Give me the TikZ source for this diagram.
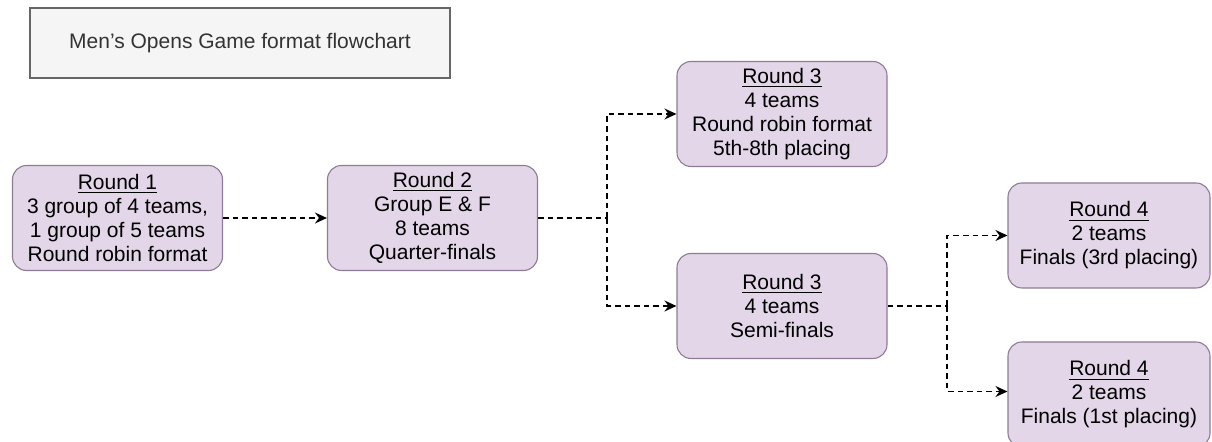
\documentclass[tikz,border=0pt]{standalone}
\usepackage{fontspec}
\setmainfont{Liberation Sans}
\usetikzlibrary{arrows.meta}
\definecolor{boxfill}{HTML}{E2D6E8}
\definecolor{boxline}{HTML}{8E7C96}
\definecolor{titlefill}{HTML}{F5F5F5}
\definecolor{titleline}{HTML}{666666}
\definecolor{titletext}{HTML}{333333}
\tikzset{
  roundbox/.style={draw=boxline, fill=boxfill, line width=0.55pt, rounded corners=7pt,
    minimum width=105pt, minimum height=52.5pt, inner sep=0pt, align=center,
    font=\fontsize{10.5}{12}\selectfont},
  titlebox/.style={draw=titleline, fill=titlefill, line width=0.55pt,
    minimum width=210pt, minimum height=35pt, inner sep=0pt, text=titletext,
    font=\fontsize{10.5}{12}\selectfont},
  arr/.style={draw=black, line width=0.65pt, dash pattern=on 2.8pt off 2pt,
    -{Stealth[length=6pt,width=5.5pt,inset=2pt]}},
  conn/.style={draw=black, line width=0.65pt, dash pattern=on 2.8pt off 2pt}
}
\begin{document}
\begin{tikzpicture}[x=0.5pt,y=-0.5pt]
\useasboundingbox (0,0) rectangle (1212,442);
\clip (0,0) rectangle (1212,442);
\fill[white] (0,0) rectangle (1212,442);
\node[titlebox] (title) at (240,43) {Men's Opens Game format flowchart};
\node[roundbox] (r1) at (117.5,218) {\underline{Round 1}\\3 group of 4 teams,\\1 group of 5 teams\\Round robin format};
\node[roundbox] (r2) at (432.5,218) {\underline{Round 2}\\Group E \& F\\8 teams\\Quarter-finals};
\node[roundbox] (r3a) at (782,114) {\underline{Round 3}\\4 teams\\Round robin format\\5th-8th placing};
\node[roundbox] (r3b) at (782,306) {\underline{Round 3}\\4 teams\\Semi-finals};
\node[roundbox, minimum width=101pt] (r4a) at (1109,235.5) {\underline{Round 4}\\2 teams\\Finals (3rd placing)};
\node[roundbox, minimum width=101pt] (r4b) at (1109,394.5) {\underline{Round 4}\\2 teams\\Finals (1st placing)};
\coordinate (b1) at (607,218);
\coordinate (b2) at (947,306);
\draw[arr] (r1) -- (r2);
\draw[conn] (r2.east) -- (b1);
\draw[arr] (b1) |- (r3a.west);
\draw[arr] (b1) |- (r3b.west);
\draw[conn] (r3b.east) -- (b2);
\draw[arr] (b2) |- (r4a.west);
\draw[arr] (b2) |- ([yshift=1.5pt]r4b.west);
\end{tikzpicture}
\end{document}
